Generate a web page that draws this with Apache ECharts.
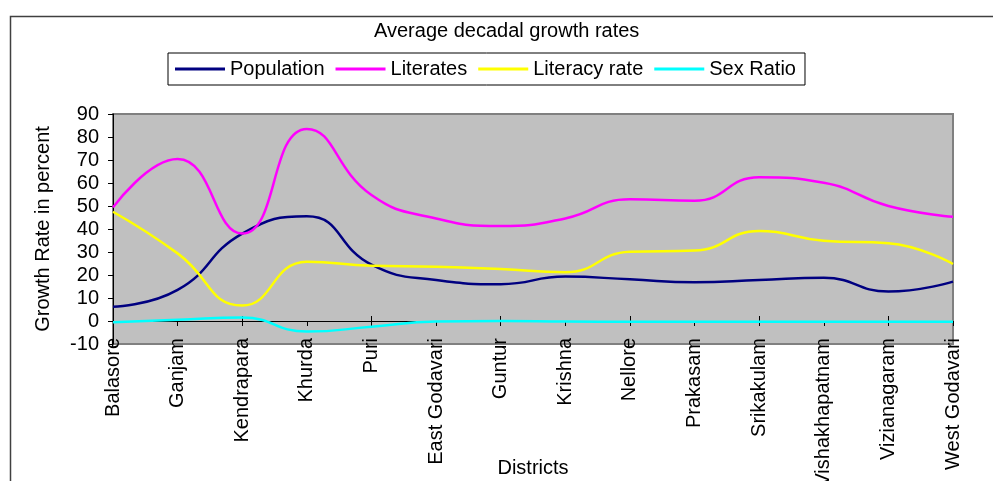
<!DOCTYPE html>
<html>
	<head>
		<meta charset="UTF-8">
		<title>Average decadal growth rates</title>
		<script type="text/javascript" src="https://cdn.jsdelivr.net/npm/echarts@6/dist/echarts.min.js"></script>
	</head>
	<body style="margin:0;background:#fff;">
		<div id="main" style="width: 993px;height: 481px;"></div>
		<script type="text/javascript">
			var myChart=echarts.init(document.getElementById('main'));

			//districts
			var districts=['Balasore','Ganjam','Kendrapara','Khurda','Puri','East Godavari','Guntur','Krishna','Nellore','Prakasam','Srikakulam','Vishakhapatnam','Vizianagaram','West Godavari'];
			//growth rates in percent
			var population=[6.2,13.5,38,45.5,24.5,17.8,16,19.3,18.1,16.8,17.8,18.8,12.8,17.1];
			var literates=[49.4,70.4,38,83.5,54.8,44.6,41.3,44.6,52.9,52.3,62.5,60.1,50,45.3];
			var literacyRate=[47.5,29.4,6.7,25.8,24,23.6,22.6,21.2,30.1,30.6,39.1,34.9,33.8,24.8];
			var sexRatio=[-0.5,0.5,1.5,-4.6,-2.5,-0.2,0,-0.2,-0.3,-0.3,-0.3,-0.3,-0.3,-0.3];

			var font='Liberation Sans';
			var fs=20;

			var option={
				textStyle:{fontFamily:font},
				//outer frame
				graphic:[{
					type:'rect',
					left:8,top:14,
					shape:{width:1100,height:600},
					style:{fill:'none',stroke:'#404040',lineWidth:1.5},
					silent:true
				}],
				title:{
					text:'Average decadal growth rates',
					left:374,
					top:21,
					padding:0,
					textStyle:{fontSize:fs,fontWeight:'normal',color:'#000',fontFamily:font}
				},
				legend:{
					left:168,
					top:53,
					padding:[6,9,6,7],
					borderColor:'#000',
					borderWidth:1,
					backgroundColor:'#fff',
					icon:'rect',
					itemWidth:50,
					itemHeight:3,
					itemGap:11,
					textStyle:{fontSize:fs,color:'#000',fontFamily:font},
					data:['Population','Literates','Literacy rate','Sex Ratio']
				},
				grid:{
					left:113,right:40,top:114,bottom:137,
					outerBoundsMode:'none',
					containLabel:false,
					show:true,
					backgroundColor:'#C0C0C0',
					borderColor:'#808080',
					borderWidth:2
				},
				xAxis:[{
					type:'category',
					boundaryGap:false,
					data:districts,
					name:'Districts',
					nameLocation:'middle',
					nameGap:114,
					nameMoveOverlap:false,
					nameTextStyle:{fontSize:fs,color:'#000',fontFamily:font},
					axisLine:{onZero:true,onZeroAxisIndex:0,lineStyle:{color:'#000',width:1}},
					axisTick:{show:true,length:5,lineStyle:{color:'#000'}},
					axisLabel:{rotate:90,margin:-6,fontSize:fs,color:'#000',fontFamily:font,interval:0,hideOverlap:false},
					splitLine:{show:false}
				},{
					type:'category',
					position:'top',
					boundaryGap:false,
					data:districts,
					axisLine:{onZero:true,onZeroAxisIndex:0,lineStyle:{color:'#000',width:1}},
					axisTick:{show:true,length:5,lineStyle:{color:'#000'}},
					axisLabel:{show:false},
					splitLine:{show:false}
				}],
				yAxis:{
					type:'value',
					min:-10,
					max:90,
					interval:10,
					name:'Growth Rate in percent',
					nameLocation:'middle',
					nameGap:60,
					nameMoveOverlap:false,
					nameTextStyle:{fontSize:fs,color:'#000',fontFamily:font},
					axisLine:{show:true,onZero:false,lineStyle:{color:'#000',width:1}},
					axisTick:{show:true,length:5,lineStyle:{color:'#000'}},
					axisLabel:{margin:14,fontSize:fs,color:'#000',fontFamily:font,hideOverlap:false,showMinLabel:true,showMaxLabel:true},
					splitLine:{show:false}
				},
				series:[{
					name:'Population',
					type:'line',
					smooth:0.5,
					symbol:'none',
					itemStyle:{color:'#000080'},
					lineStyle:{color:'#000080',width:2.5},
					data:population
				},{
					name:'Literates',
					type:'line',
					smooth:0.5,
					symbol:'none',
					itemStyle:{color:'#FF00FF'},
					lineStyle:{color:'#FF00FF',width:2.5},
					data:literates
				},{
					name:'Literacy rate',
					type:'line',
					smooth:0.5,
					symbol:'none',
					itemStyle:{color:'#FFFF00'},
					lineStyle:{color:'#FFFF00',width:2.5},
					data:literacyRate
				},{
					name:'Sex Ratio',
					type:'line',
					smooth:0.5,
					symbol:'none',
					itemStyle:{color:'#00FFFF'},
					lineStyle:{color:'#00FFFF',width:2.5},
					data:sexRatio
				}]
			};

			myChart.setOption(option);
		</script>
	</body>
</html>
